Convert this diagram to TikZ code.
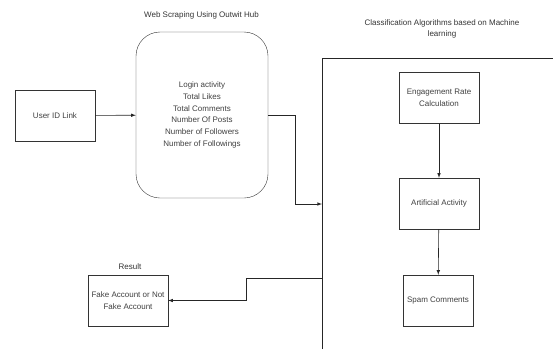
\documentclass[tikz,border=0pt]{standalone}
\usepackage{fontspec}
\setmainfont{Liberation Sans}
\usetikzlibrary{arrows,positioning}
\tikzset{>=latex,
  box/.style={draw=black!80, rectangle, align=center, inner sep=1pt,
    minimum width=80pt, minimum height=51pt},
  roundbox/.style={draw=black!80, rectangle, rounded corners=24pt, align=center,
    minimum width=132pt, minimum height=166pt},
  title/.style={align=center, text=black!80},
  line/.style={draw=black!85, line width=0.6pt}}

\begin{document}
\begin{tikzpicture}[x=1pt, y=-1pt, font=\fontsize{8}{11.8}\selectfont, text=black!75]

\useasboundingbox (0,0) rectangle (553,349);

    % scraping part
    \node [box] (user) at (55,115.5) {User ID Link};
    \node [roundbox] (scrape) at (202,115) {Login activity\\Total Likes\\Total Comments\\Number Of Posts\\Number of Followers\\Number of Followings};
    \node [title] (scrapetitle) at (201.5,15) {Web Scraping Using Outwit Hub};

    % classification frame
    \coordinate (frametop) at (322,58);
    \coordinate (framebot) at (322,349);
    \coordinate (frameright) at (553,58);
    \coordinate (clsin) at (322,204);
    \coordinate (clsout) at (322,278);
    \node [title] (clstitle) at (442,29) {Classification Algorithms based on Machine\\learning};

	\node [box] (engage) at (439,98) {Engagement Rate\\Calculation};
	\node [box] (artificial) at (439,203.5) {Artificial Activity};
	\node [box, minimum width=70pt] (spam) at (438,300.5) {Spam Comments};

    % result
    \node [box] (fake) at (128,300.5) {Fake Account or Not\\Fake Account};
    \node [title] (resulttitle) at (130,267) {Result};

    \draw [line] (framebot) -- (frametop) -- (frameright);

    \draw [line, ->] (user) -- (scrape);
    \draw [line, ->] (scrape.east |- user) -| (295,204) -- (clsin);
    \draw [line, ->] (engage) -- (artificial);
    \draw [line, ->] (artificial) -- (spam);
    \draw [line, ->] (clsout) -| (246,300.5) -- (fake);

\end{tikzpicture}
\end{document}
